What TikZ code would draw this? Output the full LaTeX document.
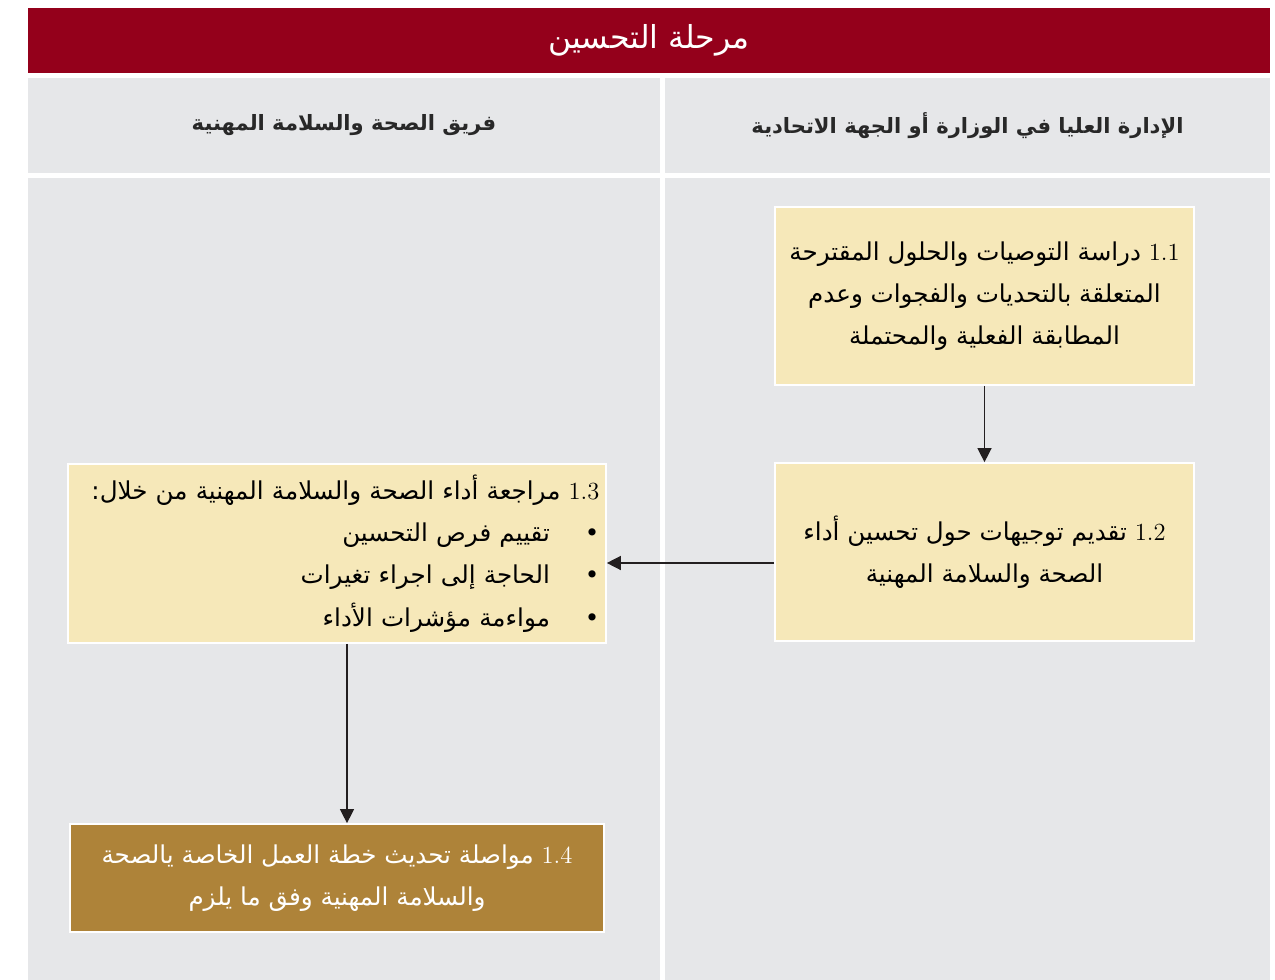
\documentclass[tikz,border=0pt]{standalone}
\usepackage{fontspec}
\usepackage{tikz}
\usetikzlibrary{shapes, arrows.meta}
\TeXXeTstate=1
\newfontfamily\arabicfont[Script=Arabic]{DejaVu Sans}
\definecolor{headred}{RGB}{148,0,27}
\definecolor{cellgray}{RGB}{230,231,233}
\definecolor{boxyellow}{RGB}{246,232,185}
\definecolor{boxgold}{RGB}{174,131,57}
\definecolor{arrowgray}{RGB}{35,31,32}
\definecolor{headtext}{RGB}{40,40,40}
\newcommand{\ar}[1]{\beginR #1\endR}
\newcommand{\stepno}[1]{\beginL{\rmfamily #1}\endL}
\tikzset{
	cell/.style={rectangle, fill=cellgray, inner sep=0pt},
	stepbox/.style={rectangle, draw=white, line width=1pt, fill=boxyellow, inner sep=0pt, align=center, text=black, font=\arabicfont\fontsize{14}{24}\selectfont},
	flow/.style={draw=arrowgray, line width=0.8pt, -{Triangle[width=8pt,length=8pt]}}
}

\begin{document}
\begin{tikzpicture}[x=0.02cm, y=-0.02cm]
		\useasboundingbox[fill=white] (0,0) rectangle (1275,980);
		\node at (649,40.5) [rectangle, fill=headred, inner sep=0pt, minimum width=24.84cm, minimum height=1.3cm, text=white, font=\arabicfont\fontsize{18}{24}\selectfont] (title) {\ar{مرحلة التحسين}};
		\node at (344,125.5) [cell, minimum width=12.64cm, minimum height=1.9cm, text=headtext, font=\arabicfont\bfseries\fontsize{12}{20}\selectfont] (headL) {\ar{فريق الصحة والسلامة المهنية}};
		\node at (967.5,125.5) [cell, minimum width=12.1cm, minimum height=1.9cm, text=headtext, font=\arabicfont\bfseries\fontsize{12}{20}\selectfont] (headR) {\ar{الإدارة العليا في الوزارة أو الجهة الاتحادية}};
		\node at (344,579) [cell, minimum width=12.64cm, minimum height=16.04cm] (bodyL) {};
		\node at (967.5,579) [cell, minimum width=12.1cm, minimum height=16.04cm] (bodyR) {};
		\node at (984.5,296) [stepbox, minimum width=8.38cm, minimum height=3.56cm] (s11) {\ar{\stepno{1.1} دراسة التوصيات والحلول المقترحة}\\ \ar{المتعلقة بالتحديات والفجوات وعدم}\\ \ar{المطابقة الفعلية والمحتملة}};
		\node at (984.5,552) [stepbox, minimum width=8.38cm, minimum height=3.56cm] (s12) {\ar{\stepno{1.2} تقديم توجيهات حول تحسين أداء}\\ \ar{الصحة والسلامة المهنية}};
		\node at (337,553.5) [stepbox, minimum width=10.76cm, minimum height=3.58cm, text width=10.5cm, align=right] (s13) {\ar{\stepno{1.3} مراجعة أداء الصحة والسلامة المهنية من خلال:}\\ \ar{•\hspace{0.7cm}تقييم فرص التحسين}\\ \ar{•\hspace{0.7cm}الحاجة إلى اجراء تغيرات}\\ \ar{•\hspace{0.7cm}مواءمة مؤشرات الأداء}};
		\node at (337,878) [stepbox, fill=boxgold, text=white, minimum width=10.68cm, minimum height=2.16cm] (s14) {\ar{\stepno{1.4} مواصلة تحديث خطة العمل الخاصة يالصحة}\\ \ar{والسلامة المهنية وفق ما يلزم}};
		\draw[flow] (s11) -- (s12);
		\draw[flow] ([yshift=-0.22cm]s12.west) -- ([yshift=-0.22cm]s12.west -| s13.east);
		\draw[flow] ([xshift=0.2cm]s13.south) -- ([xshift=0.2cm]s13.south |- s14.north);
\end{tikzpicture}
\end{document}
